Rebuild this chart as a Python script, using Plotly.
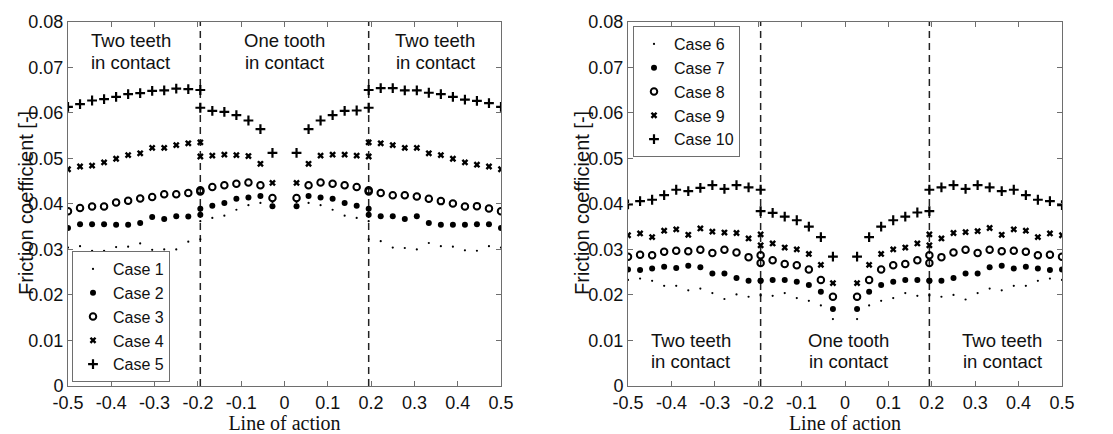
import plotly.graph_objects as go

# Positions along the line of action (two values at each contact boundary)
x_pos = [-0.5, -0.4722, -0.4444, -0.4167, -0.3889, -0.3611, -0.3333, -0.3056,
         -0.2778, -0.25, -0.2222, -0.1944, -0.1944, -0.1667, -0.1389, -0.1111,
         -0.0833, -0.0556, -0.0278, 0.0278, 0.0556, 0.0833, 0.1111, 0.1389,
         0.1667, 0.1944, 0.1944, 0.2222, 0.25, 0.2778, 0.3056, 0.3333, 0.3611,
         0.3889, 0.4167, 0.4444, 0.4722, 0.5]

boundaries = [-0.1944, 0.1944]

case1 = [0.0304, 0.0307, 0.0297, 0.0297, 0.0305, 0.0306, 0.0313, 0.0299, 0.0300, 0.0300,
         0.0317, 0.0322, 0.0362, 0.0369, 0.0374, 0.0387, 0.0397, 0.0402, 0.0404,
         0.0404, 0.0402, 0.0397, 0.0387, 0.0374, 0.0369, 0.0362, 0.0322, 0.0318,
         0.0304, 0.0303, 0.0300, 0.0314, 0.0307, 0.0306, 0.0298, 0.0297, 0.0307, 0.0304]
case2 = [0.0347, 0.0355, 0.0355, 0.0355, 0.0354, 0.0354, 0.0358, 0.0371, 0.0367, 0.0373,
         0.0372, 0.0376, 0.0389, 0.0396, 0.0402, 0.0411, 0.0414, 0.0417, 0.0395,
         0.0395, 0.0417, 0.0414, 0.0411, 0.0402, 0.0396, 0.0389, 0.0376, 0.0373,
         0.0373, 0.0367, 0.0373, 0.0358, 0.0354, 0.0354, 0.0354, 0.0355, 0.0355, 0.0347]
case3 = [0.0384, 0.0391, 0.0394, 0.0394, 0.0403, 0.0407, 0.0412, 0.0415, 0.0421, 0.0421,
         0.0424, 0.0430, 0.0427, 0.0437, 0.0441, 0.0444, 0.0447, 0.0441, 0.0413,
         0.0413, 0.0441, 0.0447, 0.0444, 0.0441, 0.0437, 0.0427, 0.0430, 0.0424,
         0.0419, 0.0419, 0.0416, 0.0411, 0.0406, 0.0401, 0.0394, 0.0395, 0.0390, 0.0384]
case4 = [0.0476, 0.0482, 0.0484, 0.0491, 0.0499, 0.0507, 0.0511, 0.0523, 0.0523, 0.0529,
         0.0533, 0.0535, 0.0504, 0.0506, 0.0508, 0.0507, 0.0505, 0.0488, 0.0446,
         0.0446, 0.0488, 0.0506, 0.0508, 0.0508, 0.0506, 0.0504, 0.0535, 0.0533,
         0.0529, 0.0523, 0.0523, 0.0511, 0.0507, 0.0499, 0.0491, 0.0486, 0.0482, 0.0476]
case5 = [0.0613, 0.0619, 0.0627, 0.0630, 0.0635, 0.0641, 0.0643, 0.0648, 0.0649, 0.0653,
         0.0652, 0.0650, 0.0611, 0.0604, 0.0602, 0.0595, 0.0583, 0.0564, 0.0512,
         0.0512, 0.0564, 0.0583, 0.0595, 0.0604, 0.0605, 0.0611, 0.0650, 0.0654,
         0.0654, 0.0649, 0.0649, 0.0644, 0.0641, 0.0635, 0.0629, 0.0626, 0.0621, 0.0613]

case6 = [0.0233, 0.0236, 0.0231, 0.0220, 0.0220, 0.0210, 0.0214, 0.0204, 0.0191, 0.0201,
         0.0196, 0.0199, 0.0201, 0.0198, 0.0204, 0.0193, 0.0187, 0.0177, 0.0147,
         0.0147, 0.0177, 0.0187, 0.0193, 0.0204, 0.0198, 0.0201, 0.0199, 0.0196,
         0.0200, 0.0190, 0.0204, 0.0214, 0.0210, 0.0220, 0.0220, 0.0231, 0.0236, 0.0233]
case7 = [0.0256, 0.0255, 0.0258, 0.0262, 0.0259, 0.0264, 0.0261, 0.0247, 0.0247, 0.0237,
         0.0231, 0.0231, 0.0231, 0.0233, 0.0233, 0.0229, 0.0222, 0.0207, 0.0169,
         0.0169, 0.0207, 0.0222, 0.0229, 0.0233, 0.0233, 0.0231, 0.0231, 0.0231,
         0.0237, 0.0247, 0.0247, 0.0261, 0.0264, 0.0258, 0.0262, 0.0258, 0.0255, 0.0256]
case8 = [0.0284, 0.0288, 0.0287, 0.0295, 0.0297, 0.0296, 0.0299, 0.0292, 0.0299, 0.0293,
         0.0283, 0.0287, 0.0270, 0.0276, 0.0268, 0.0265, 0.0256, 0.0233, 0.0196,
         0.0196, 0.0233, 0.0256, 0.0265, 0.0268, 0.0276, 0.0270, 0.0287, 0.0283,
         0.0293, 0.0299, 0.0292, 0.0299, 0.0296, 0.0297, 0.0295, 0.0287, 0.0288, 0.0284]
case9 = [0.0331, 0.0335, 0.0327, 0.0341, 0.0344, 0.0332, 0.0346, 0.0339, 0.0337, 0.0336,
         0.0324, 0.0333, 0.0309, 0.0313, 0.0304, 0.0300, 0.0290, 0.0266, 0.0226,
         0.0226, 0.0266, 0.0290, 0.0300, 0.0304, 0.0313, 0.0309, 0.0333, 0.0324,
         0.0336, 0.0338, 0.0340, 0.0347, 0.0332, 0.0344, 0.0341, 0.0327, 0.0335, 0.0331]
case10 = [0.0399, 0.0406, 0.0409, 0.0419, 0.0431, 0.0428, 0.0435, 0.0441, 0.0433, 0.0441,
          0.0436, 0.0431, 0.0384, 0.0380, 0.0372, 0.0364, 0.0350, 0.0327, 0.0284,
          0.0284, 0.0327, 0.0350, 0.0364, 0.0372, 0.0381, 0.0384, 0.0431, 0.0436,
          0.0441, 0.0433, 0.0441, 0.0436, 0.0428, 0.0431, 0.0419, 0.0409, 0.0406, 0.0397]

x_ticks = [-0.5, -0.4, -0.3, -0.2, -0.1, 0, 0.1, 0.2, 0.3, 0.4, 0.5]
x_tick_text = ["-0.5", "-0.4", "-0.3", "-0.2", "-0.1", "0", "0.1", "0.2", "0.3", "0.4", "0.5"]
y_ticks = [0, 0.01, 0.02, 0.03, 0.04, 0.05, 0.06, 0.07, 0.08]
y_tick_text = ["0", "0.01", "0.02", "0.03", "0.04", "0.05", "0.06", "0.07", "0.08"]

region_line1 = ["Two teeth", "One tooth", "Two teeth"]
region_line2 = ["in contact", "in contact", "in contact"]
region_x_left = [-0.355, 0.0, 0.348]
region_x_right = [-0.355, 0.007, 0.362]

y_title = "Friction coefficient [-]"
x_title = "Line of action"

SANS = "Liberation Sans, Arial, sans-serif"
SERIF = "Liberation Serif, Times New Roman, serif"
AX = "#6e6e6e"

styles = [
    dict(symbol="circle", size=2.2, color="black"),
    dict(symbol="circle", size=6, color="black"),
    dict(symbol="circle-open", size=6.5, color="black", line=dict(width=2, color="black")),
    dict(symbol="x", size=6, color="black", line=dict(width=0)),
    dict(symbol="cross-thin", size=7, color="black", line=dict(width=2.2, color="black")),
]

fig = go.Figure()
left = [("Case 1", case1), ("Case 2", case2), ("Case 3", case3), ("Case 4", case4), ("Case 5", case5)]
right = [("Case 6", case6), ("Case 7", case7), ("Case 8", case8), ("Case 9", case9), ("Case 10", case10)]
for (name, vals), st in zip(left, styles):
    fig.add_trace(go.Scatter(x=x_pos, y=vals, mode="markers", name=name, marker=st,
                             xaxis="x", yaxis="y", legend="legend"))
for (name, vals), st in zip(right, styles):
    fig.add_trace(go.Scatter(x=x_pos, y=vals, mode="markers", name=name, marker=st,
                             xaxis="x2", yaxis="y2", legend="legend2"))

W, H = 1113, 434
def px(v):
    return v / W
def py(v):
    return 1 - v / H

axis_common = dict(showline=True, linecolor=AX, linewidth=1, mirror="ticks", ticks="inside",
                   ticklen=5, tickcolor=AX, showgrid=False, zeroline=False, automargin=False,
                   tickfont=dict(family=SANS, size=18, color="#111"))
xaxis_common = dict(axis_common, range=[-0.5, 0.5], tickvals=x_ticks, ticktext=x_tick_text,
                    title=dict(text=x_title, font=dict(family=SERIF, size=20, color="#111"),
                               standoff=4))
yaxis_common = dict(axis_common, range=[0, 0.08], tickvals=y_ticks, ticktext=y_tick_text)

fig.update_layout(
    width=W, height=H, margin=dict(l=0, r=0, t=0, b=0, autoexpand=False),
    paper_bgcolor="white", plot_bgcolor="white", showlegend=True,
    xaxis=dict(xaxis_common, domain=[px(68), px(501)], anchor="y"),
    yaxis=dict(yaxis_common, domain=[py(386), py(21.7)], anchor="x"),
    xaxis2=dict(xaxis_common, domain=[px(628), px(1062)], anchor="y2"),
    yaxis2=dict(yaxis_common, domain=[py(386), py(21.7)], anchor="x2"),
    legend=dict(x=px(72), y=py(382), xanchor="left", yanchor="bottom", bgcolor="white",
                bordercolor=AX, borderwidth=1, font=dict(family=SANS, size=16, color="#111"),
                itemsizing="trace", tracegroupgap=0),
    legend2=dict(x=px(633), y=py(26), xanchor="left", yanchor="top", bgcolor="white",
                 bordercolor=AX, borderwidth=1, font=dict(family=SANS, size=16, color="#111"),
                 itemsizing="trace", tracegroupgap=0),
)

# y-axis titles placed as rotated text so they sit tight against the tick labels
for xpix in (26, 582):
    fig.add_annotation(x=px(xpix), y=py(203), xref="paper", yref="paper", text=y_title,
                       textangle=-90, showarrow=False, xanchor="center", yanchor="middle",
                       font=dict(family=SANS, size=20, color="#111"))

for b in boundaries:
    for xr, yr in (("x", "y"), ("x2", "y2")):
        fig.add_shape(type="line", xref=xr, yref=yr, x0=b, x1=b, y0=0, y1=0.08,
                      line=dict(color="#222", width=1.5, dash="7px,5px"), layer="below")

ann_font = dict(family=SANS, size=18.5, color="#111")
for xs, xr, yr, y1, y2 in ((region_x_left, "x", "y", 0.0758, 0.0711),
                           (region_x_right, "x2", "y2", 0.0099, 0.0053)):
    for xv, t1, t2 in zip(xs, region_line1, region_line2):
        fig.add_annotation(x=xv, y=y1, xref=xr, yref=yr, text=t1, showarrow=False,
                           font=ann_font, xanchor="center", yanchor="middle")
        fig.add_annotation(x=xv, y=y2, xref=xr, yref=yr, text=t2, showarrow=False,
                           font=ann_font, xanchor="center", yanchor="middle")

fig.write_html("out.html")
